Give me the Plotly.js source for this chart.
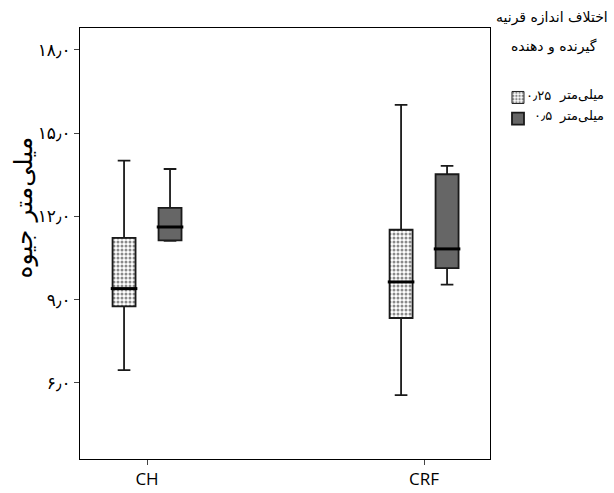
<!DOCTYPE html>
<html>
<head>
<meta charset="utf-8">
<script src="https://cdn.plot.ly/plotly-3.0.1.min.js"></script>
<style>html,body{margin:0;padding:0;background:#fff;}</style>
</head>
<body>
<div id="chart" style="width:614px;height:493px;"></div>
<script>
// Categories
const categories = ['CH', 'CRF'];
// Series labels (value and unit)
const seriesValues = ['۰٫۲۵', '۰٫۵'];
const seriesUnit = 'میلی‌متر';
// Box statistics, series 0.25 mm
const s25_lower  = [6.46, 5.56];
const s25_q1     = [8.76, 8.34];
const s25_median = [9.40, 9.64];
const s25_q3     = [11.23, 11.52];
const s25_upper  = [14.01, 16.02];
// Box statistics, series 0.5 mm
const s50_lower  = [11.12, 9.54];
const s50_q1     = [11.14, 10.14];
const s50_median = [11.62, 10.83];
const s50_q3     = [12.31, 13.52];
const s50_upper  = [13.71, 13.82];
// Y tick labels
const yTickVals = [6, 9, 12, 15, 18];
const yTickText = ['۶٫۰', '۹٫۰', '۱۲٫۰', '۱۵٫۰', '۱۸٫۰'];
const legendTitle = ['اختلاف اندازه قرنیه', 'گیرنده و دهنده'];
const yTitle = 'میلی‌متر جیوه';

const FONT = 'DejaVu Sans, Noto Sans, sans-serif';

const medianStyle = {symbol: 'line-ew', size: 19, color: '#000', line: {color: '#000', width: 3}};

const traces = [
  {
    type: 'bar', x: categories, alignmentgroup: 'pattern',
    y: s25_q3.map((v, i) => v - s25_q1[i]), base: s25_q1,
    width: 0.083, offset: -0.1245,
    marker: {color: '#ffffff', line: {color: '#222', width: 1},
             pattern: {shape: '.', fgcolor: '#8a8a8a', bgcolor: '#ffffff', size: 4, solidity: 0.45}},
    name: ' ', showlegend: true, hoverinfo: 'skip', legendrank: 1
  },
  {
    type: 'box', x: categories, name: ' ',
    alignmentgroup: 'boxes', offsetgroup: 'g25',
    q1: s25_q1, median: s25_median, q3: s25_q3,
    lowerfence: s25_lower, upperfence: s25_upper,
    fillcolor: 'rgba(0,0,0,0)', line: {color: '#1a1a1a', width: 1.8},
    whiskerwidth: 0.55, showlegend: false
  },
  {
    type: 'box', x: categories, name: '  ',
    alignmentgroup: 'boxes', offsetgroup: 'g50',
    q1: s50_q1, median: s50_median, q3: s50_q3,
    lowerfence: s50_lower, upperfence: s50_upper,
    fillcolor: '#666666', line: {color: '#1a1a1a', width: 1.8},
    whiskerwidth: 0.55, showlegend: true, legendrank: 2
  },
  {
    type: 'scatter', mode: 'markers', x: categories, y: s25_median,
    alignmentgroup: 'medians', offsetgroup: 'm25',
    marker: medianStyle, showlegend: false, hoverinfo: 'skip'
  },
  {
    type: 'scatter', mode: 'markers', x: categories, y: s50_median,
    alignmentgroup: 'medians', offsetgroup: 'm50',
    marker: medianStyle, showlegend: false, hoverinfo: 'skip'
  }
];

const layout = {
  width: 614, height: 493,
  margin: {l: 80, r: 124, t: 28, b: 34},
  paper_bgcolor: '#fff', plot_bgcolor: '#fff',
  boxmode: 'group', boxgap: 0.668, boxgroupgap: 0.5,
  scattermode: 'group', scattergap: 0.668,
  barmode: 'overlay',
  font: {family: FONT, color: '#000'},
  xaxis: {
    type: 'category', range: [-0.242, 1.238],
    showgrid: false, zeroline: false,
    showline: true, mirror: true, linecolor: '#000', linewidth: 1,
    ticks: 'outside', ticklen: 5, tickcolor: '#444',
    tickfont: {family: 'Open Sans, sans-serif', size: 17, color: '#000'}
  },
  yaxis: {
    range: [3.26, 18.79],
    showline: true, mirror: true, linecolor: '#000', linewidth: 1,
    ticks: 'outside', ticklen: 5, tickcolor: '#444', showgrid: false, zeroline: false,
    tickvals: yTickVals, ticktext: yTickText,
    tickfont: {family: FONT, size: 17, color: '#000'}
  },
  showlegend: true,
  legend: {x: 1.0195, xanchor: 'left', y: 0.875, yanchor: 'top',
           font: {size: 14}, bgcolor: 'rgba(0,0,0,0)', traceorder: 'normal', itemwidth: 30},
  annotations: [
    {text: yTitle, xref: 'paper', yref: 'paper', x: -0.137, y: 0.583, showarrow: false,
     textangle: -90, xanchor: 'center', yanchor: 'middle', font: {family: FONT, size: 25}},
    {text: legendTitle[0], xref: 'paper', yref: 'paper', x: 1.151, y: 1.0255, showarrow: false,
     xanchor: 'center', yanchor: 'middle', font: {family: FONT, size: 14}},
    {text: legendTitle[1], xref: 'paper', yref: 'paper', x: 1.156, y: 0.956, showarrow: false,
     xanchor: 'center', yanchor: 'middle', font: {family: FONT, size: 14}},
    {text: seriesValues[0], xref: 'paper', yref: 'paper', x: 1.083, y: 0.8445, showarrow: false,
     xanchor: 'left', yanchor: 'middle', font: {family: FONT, size: 13}},
    {text: seriesUnit, xref: 'paper', yref: 'paper', x: 1.283, y: 0.8445, showarrow: false,
     xanchor: 'right', yanchor: 'middle', font: {family: FONT, size: 13}},
    {text: seriesValues[1], xref: 'paper', yref: 'paper', x: 1.103, y: 0.796, showarrow: false,
     xanchor: 'left', yanchor: 'middle', font: {family: FONT, size: 13}},
    {text: seriesUnit, xref: 'paper', yref: 'paper', x: 1.283, y: 0.796, showarrow: false,
     xanchor: 'right', yanchor: 'middle', font: {family: FONT, size: 13}}
  ]
};

Plotly.newPlot('chart', traces, layout, {displayModeBar: false, staticPlot: true});
</script>
</body>
</html>
